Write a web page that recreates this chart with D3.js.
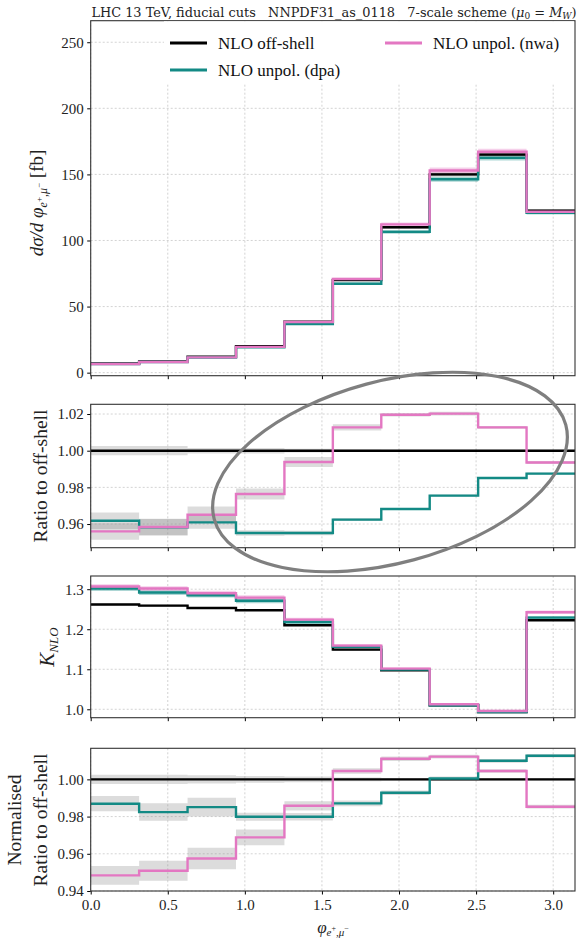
<!DOCTYPE html>
<html>
<head>
<meta charset="utf-8">
<script src="https://cdnjs.cloudflare.com/ajax/libs/d3/7.8.5/d3.min.js"></script>
<style>
  body { margin: 0; background: #fff; }
  svg { font-family: "Liberation Serif", "DejaVu Serif", serif; }
</style>
</head>
<body>
<div id="container"></div>
<script>
// bin edges: 10 bins in phi from 0 to pi
const edges = d3.range(11).map(i => i * Math.PI / 10);
const xTicks = [0, 0.5, 1.0, 1.5, 2.0, 2.5, 3.0];

// panel 1: d sigma / d phi [fb]
const offXsec = [6.9, 8.4, 12.0, 20.0, 38.5, 70.0, 110.0, 150.0, 165.0, 122.5];
const dpaXsec = [6.6, 8.05, 11.5, 19.1, 36.8, 67.3, 106.5, 146.3, 162.5, 121.0];
const nwaXsec = [6.6, 8.05, 11.6, 19.5, 38.3, 70.9, 112.2, 153.0, 167.1, 121.7];
const offXsecErr = [0.1, 0.1, 0.15, 0.2, 0.4, 0.7, 1.0, 1.3, 1.4, 1.0];
const dpaXsecErr = [0.1, 0.1, 0.15, 0.25, 0.5, 0.9, 1.4, 1.9, 2.0, 1.3];
const nwaXsecErr = [0.1, 0.1, 0.15, 0.25, 0.5, 1.0, 1.5, 2.2, 2.3, 1.4];

// panel 2: ratio to off-shell
const offRatio = [1, 1, 1, 1, 1, 1, 1, 1, 1, 1];
const dpaRatio = [0.9618, 0.9582, 0.9609, 0.9551, 0.9551, 0.9624, 0.9682, 0.9755, 0.9851, 0.9875];
const nwaRatio = [0.956, 0.9584, 0.9651, 0.9764, 0.9938, 1.0127, 1.0196, 1.0202, 1.0127, 0.9936];
const offRatioErr = [0.0025, 0.0025, 0.0015, 0.0015, 0.001, 0.0007, 0.0005, 0.0005, 0.0005, 0.0005];
const dpaRatioErr = [0.0045, 0.0045, 0.0035, 0.0015, 0.0012, 0.0008, 0.0006, 0.0006, 0.0006, 0.0006];
const nwaRatioErr = [0.0045, 0.0045, 0.0045, 0.003, 0.0027, 0.0017, 0.001, 0.001, 0.0008, 0.0008];

// panel 3: K factor
const offK = [1.2617, 1.259, 1.253, 1.2475, 1.21, 1.149, 1.0975, 1.01, 0.993, 1.2225];
const dpaK = [1.3017, 1.2917, 1.285, 1.271, 1.218, 1.156, 1.099, 1.01, 0.993, 1.229];
const nwaK = [1.3067, 1.3017, 1.29, 1.279, 1.224, 1.159, 1.1017, 1.0125, 0.9958, 1.2425];
const offKErr = [0.002, 0.002, 0.002, 0.002, 0.002, 0.002, 0.002, 0.002, 0.002, 0.002];
const dpaKErr = [0.006, 0.006, 0.006, 0.006, 0.005, 0.004, 0.003, 0.003, 0.003, 0.004];
const nwaKErr = [0.006, 0.006, 0.006, 0.006, 0.005, 0.004, 0.003, 0.003, 0.003, 0.004];

// panel 4: normalised ratio to off-shell
const offNorm = [1, 1, 1, 1, 1, 1, 1, 1, 1, 1];
const dpaNorm = [0.9869, 0.9824, 0.9851, 0.9799, 0.9799, 0.9871, 0.9928, 1.0005, 1.010, 1.0127];
const nwaNorm = [0.9484, 0.9509, 0.9575, 0.9688, 0.9858, 1.0045, 1.0111, 1.0122, 1.0045, 0.9853];
const offNormErr = [0.0025, 0.0025, 0.0022, 0.0018, 0.0015, 0.001, 0.0008, 0.0008, 0.0008, 0.0008];
const dpaNormErr = [0.0041, 0.0047, 0.005, 0.0022, 0.002, 0.0015, 0.0012, 0.001, 0.001, 0.001];
const nwaNormErr = [0.005, 0.0054, 0.0058, 0.0042, 0.0025, 0.0015, 0.0012, 0.001, 0.001, 0.001];

const legendLabels = ["NLO off-shell", "NLO unpol. (dpa)", "NLO unpol. (nwa)"];
const colors = ["#000000", "#138a85", "#e377c2"];

const W = 583, H = 940;
const svg = d3.select("#container").append("svg")
    .attr("width", W)
    .attr("height", H);

const x = d3.scaleLinear().domain([0, Math.PI]).range([90.7, 575]);

// step points: value of bin i from edge i to edge i+1
function steps(vals, errs) {
    const pts = vals.map((v, i) => ({x: edges[i], v: v, e: errs[i]}));
    pts.push({x: edges[10], v: vals[9], e: errs[9]});
    return pts;
}

function styleTicks(a) {
    a.select(".domain").remove();
    a.selectAll("text")
        .attr("font-family", "Liberation Serif")
        .attr("font-size", 15)
        .attr("fill", "#222");
}

function drawPanel(cfg) {
    const y = d3.scaleLinear().domain(cfg.domain).range([cfg.bottom, cfg.top]);
    const g = svg.append("g");

    // grid
    g.selectAll(".gx").data(xTicks).enter().append("line")
        .attr("x1", d => x(d)).attr("x2", d => x(d))
        .attr("y1", cfg.top).attr("y2", cfg.bottom)
        .attr("stroke", "#c8c8c8").attr("stroke-width", 0.8)
        .attr("stroke-dasharray", "2,2");
    g.selectAll(".gy").data(cfg.ticks).enter().append("line")
        .attr("x1", x.range()[0]).attr("x2", x.range()[1])
        .attr("y1", d => y(d)).attr("y2", d => y(d))
        .attr("stroke", "#c8c8c8").attr("stroke-width", 0.8)
        .attr("stroke-dasharray", "2,2");

    const clipId = "clip" + cfg.id;
    svg.append("clipPath").attr("id", clipId).append("rect")
        .attr("x", x.range()[0]).attr("y", cfg.top)
        .attr("width", x.range()[1] - x.range()[0])
        .attr("height", cfg.bottom - cfg.top);
    const plot = g.append("g").attr("clip-path", `url(#${clipId})`);

    const area = d3.area()
        .curve(d3.curveStepAfter)
        .x(d => x(d.x))
        .y0(d => y(d.v - d.e))
        .y1(d => y(d.v + d.e));
    const line = d3.line()
        .curve(d3.curveStepAfter)
        .x(d => x(d.x))
        .y(d => y(d.v));

    cfg.series.forEach((s, i) => {
        plot.append("path")
            .attr("d", area(steps(s.vals, s.errs)))
            .attr("fill", cfg.bandGray ? "#8c8c8c" : colors[i])
            .attr("fill-opacity", cfg.bandGray ? 0.3 : 0.35);
    });
    cfg.series.forEach((s, i) => {
        plot.append("path")
            .attr("d", line(steps(s.vals, s.errs)))
            .attr("fill", "none")
            .attr("stroke", colors[i])
            .attr("stroke-width", 2.4);
    });

    // axes
    const yAxis = d3.axisLeft(y).tickValues(cfg.ticks).tickFormat(d3.format(cfg.fmt))
        .tickSize(3.5).tickPadding(3.5).tickSizeOuter(0);
    g.append("g").attr("transform", `translate(${x.range()[0]},0)`).call(yAxis)
        .call(styleTicks);
    const xAxis = d3.axisBottom(x).tickValues(xTicks).tickFormat(cfg.showX ? d3.format(".1f") : "")
        .tickSize(3.5).tickPadding(5).tickSizeOuter(0);
    g.append("g").attr("transform", `translate(0,${cfg.bottom})`).call(xAxis)
        .call(styleTicks);

    g.append("rect")
        .attr("x", x.range()[0]).attr("y", cfg.top)
        .attr("width", x.range()[1] - x.range()[0])
        .attr("height", cfg.bottom - cfg.top)
        .attr("fill", "none").attr("stroke", "#333").attr("stroke-width", 1.1);
    return g;
}

const p1 = drawPanel({
    id: 1, top: 20.7, bottom: 375.7, domain: [-2.3, 266.3],
    ticks: [0, 50, 100, 150, 200, 250], fmt: "d",
    series: [{vals: offXsec, errs: offXsecErr}, {vals: dpaXsec, errs: dpaXsecErr}, {vals: nwaXsec, errs: nwaXsecErr}]
});
drawPanel({
    id: 2, top: 404.3, bottom: 547.7, domain: [0.9471, 1.0253], bandGray: true,
    ticks: [0.96, 0.98, 1.00, 1.02], fmt: ".2f",
    series: [{vals: offRatio, errs: offRatioErr}, {vals: dpaRatio, errs: dpaRatioErr}, {vals: nwaRatio, errs: nwaRatioErr}]
});
drawPanel({
    id: 3, top: 576, bottom: 717.7, domain: [0.979, 1.333],
    ticks: [1.0, 1.1, 1.2, 1.3], fmt: ".1f",
    series: [{vals: offK, errs: offKErr}, {vals: dpaK, errs: dpaKErr}, {vals: nwaK, errs: nwaKErr}]
});
drawPanel({
    id: 4, top: 748.3, bottom: 891, domain: [0.94, 1.0167], bandGray: true, showX: true,
    ticks: [0.94, 0.96, 0.98, 1.00], fmt: ".2f",
    series: [{vals: offNorm, errs: offNormErr}, {vals: dpaNorm, errs: dpaNormErr}, {vals: nwaNorm, errs: nwaNormErr}]
});

// legend (white box inside top panel)
p1.append("rect").attr("x", 164).attr("y", 21.3).attr("width", 410).attr("height", 62).attr("fill", "#fff");
const legendPos = [[170, 43], [170, 70], [385, 43]];
legendLabels.forEach((lab, i) => {
    const [lx, ly] = legendPos[i];
    p1.append("line").attr("x1", lx).attr("x2", lx + 37).attr("y1", ly).attr("y2", ly)
        .attr("stroke", colors[i]).attr("stroke-width", 3);
    p1.append("text").attr("x", lx + 48).attr("y", ly + 5.5)
        .attr("font-size", 17).attr("fill", "#111").text(lab);
});

// title
const title = svg.append("text").attr("x", 334).attr("y", 16.5).attr("text-anchor", "middle")
    .attr("font-family", "DejaVu Serif").attr("font-size", 12.9).attr("fill", "#222")
    .attr("xml:space", "preserve");
title.append("tspan").text("LHC 13 TeV, fiducial cuts   NNPDF31_as_0118   7-scale scheme (");
title.append("tspan").attr("font-style", "italic").text("μ");
title.append("tspan").attr("font-size", 9).attr("dy", 2.5).text("0");
title.append("tspan").attr("dy", -2.5).text(" = ");
title.append("tspan").attr("font-style", "italic").text("M");
title.append("tspan").attr("font-size", 9).attr("font-style", "italic").attr("dy", 2.5).text("W");
title.append("tspan").attr("dy", -2.5).text(")");

// y labels
const yl1 = svg.append("text").attr("transform", "translate(43,203) rotate(-90)")
    .attr("text-anchor", "middle").attr("font-size", 19).attr("fill", "#222");
yl1.append("tspan").attr("font-style", "italic").text("dσ/d φ");
yl1.append("tspan").attr("font-style", "italic").attr("font-size", 12).attr("dy", 4).text("e");
yl1.append("tspan").attr("font-size", 9).attr("dy", -5).text("+");
yl1.append("tspan").attr("font-size", 12).attr("dy", 5).text(",");
yl1.append("tspan").attr("font-style", "italic").attr("font-size", 12).text("μ");
yl1.append("tspan").attr("font-size", 9).attr("dy", -5).text("−");
yl1.append("tspan").attr("dy", 1).text(" [fb]");

svg.append("text").attr("transform", "translate(47,476) rotate(-90)")
    .attr("text-anchor", "middle").attr("font-size", 19.5).attr("fill", "#222")
    .text("Ratio to off-shell");

const yl3 = svg.append("text").attr("transform", "translate(54,647) rotate(-90)")
    .attr("text-anchor", "middle").attr("font-size", 21).attr("fill", "#222");
yl3.append("tspan").attr("font-style", "italic").text("K");
yl3.append("tspan").attr("font-style", "italic").attr("font-size", 13).attr("dy", 4).text("NLO");

svg.append("text").attr("transform", "translate(20.5,820) rotate(-90)")
    .attr("text-anchor", "middle").attr("font-size", 19.5).attr("fill", "#222")
    .text("Normalised");
svg.append("text").attr("transform", "translate(47,820) rotate(-90)")
    .attr("text-anchor", "middle").attr("font-size", 19.5).attr("fill", "#222")
    .text("Ratio to off-shell");

// x label
const xl = svg.append("text").attr("x", 333).attr("y", 933).attr("text-anchor", "middle")
    .attr("font-size", 17).attr("fill", "#222");
xl.append("tspan").attr("font-style", "italic").text("φ");
xl.append("tspan").attr("font-style", "italic").attr("font-size", 11).attr("dy", 3).text("e");
xl.append("tspan").attr("font-size", 8).attr("dy", -5).text("+");
xl.append("tspan").attr("font-size", 11).attr("dy", 5).text(",");
xl.append("tspan").attr("font-style", "italic").attr("font-size", 11).text("μ");
xl.append("tspan").attr("font-size", 8).attr("dy", -5).text("−");

// highlight ellipse across the ratio panel
svg.append("ellipse")
    .attr("transform", "translate(390,472) rotate(-15)")
    .attr("rx", 182).attr("ry", 91)
    .attr("fill", "none").attr("stroke", "#7f7f7f").attr("stroke-width", 3.2);
</script>
</body>
</html>
